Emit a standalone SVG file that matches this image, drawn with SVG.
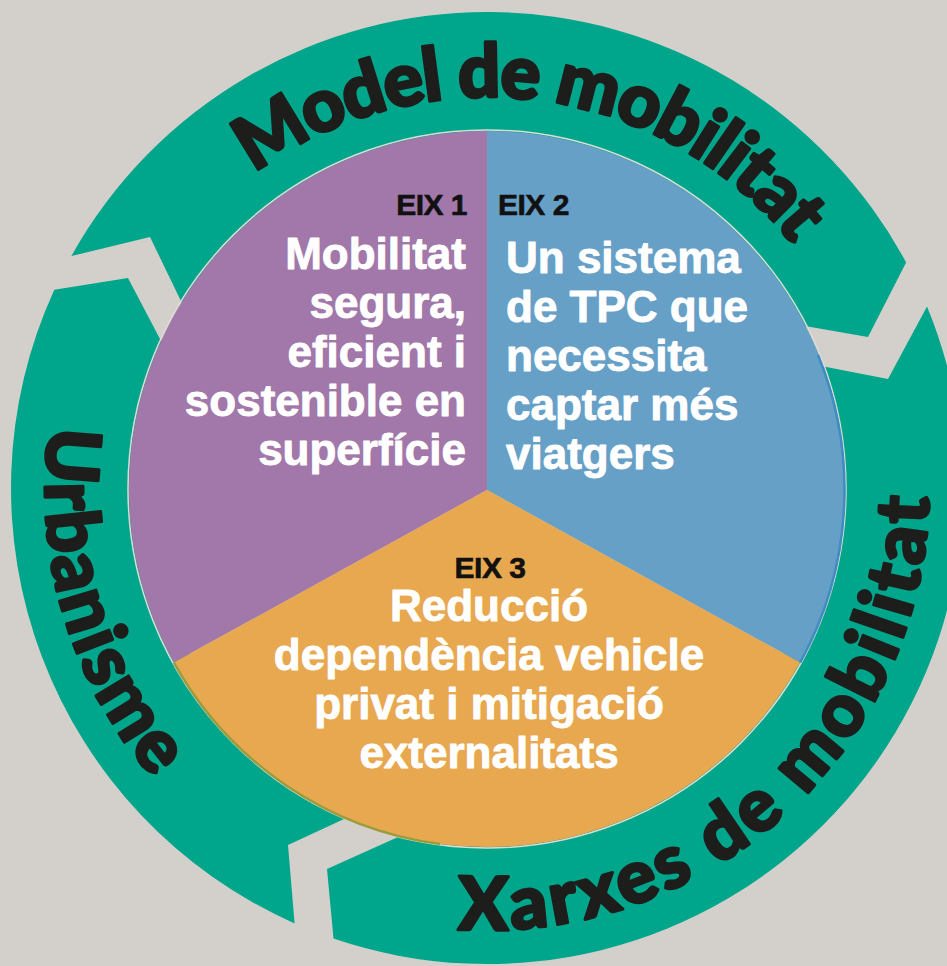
<svg xmlns="http://www.w3.org/2000/svg" width="947" height="966" viewBox="0 0 947 966">
  <defs>
    <style>
      .arrow { fill: #00a68b; }
      .ring { font-family: Lato, "Liberation Sans", sans-serif; font-weight: 900; font-size: 74px; fill: #1d1d1b; stroke: #1d1d1b; stroke-width: 3px; stroke-linejoin: round; }
      .eix { font-family: "Liberation Sans", Arial, sans-serif; font-weight: bold; font-size: 30px; fill: #111; stroke: #111; stroke-width: 0.6px; letter-spacing: -0.5px; }
      .body { font-family: "Liberation Sans", Arial, sans-serif; font-weight: bold; font-size: 44px; fill: #fff; stroke: #fff; stroke-width: 0.9px; stroke-linejoin: round; }
    </style>
    <path id="pModel" d="M 254.4 173.7 A 391 391 0 0 1 854.4 354.3"/>
    <path id="pUrb" d="M 49.3 426.5 A 442 442 0 0 0 233.5 850.1"/>
    <path id="pXar" d="M 458.1 929.1 A 442 442 0 0 0 922.3 411.3"/>
  </defs>
  <rect width="947" height="966" fill="#d3d0cb"/>

  <g id="connectors">
    <g id="arrow-model">
      <path class="arrow" d="M 71.3 256.1 A 476 476 0 0 1 906.1 262.4 L 868 337 L 806.4 326.3 L 790.3 334.5 A 340 340 0 0 0 196.7 311.0 L 181.3 301.7 L 150 237 Z"/>
      <text class="ring"><textPath href="#pModel" textLength="600" lengthAdjust="spacing">Model de mobilitat</textPath></text>
    </g>
    <g id="arrow-xarxes">
      <path class="arrow" d="M 927.0 306.4 A 476 476 0 0 1 333.5 938.6 L 327 869 L 401.4 835.6 L 405.7 818.1 A 340 340 0 0 0 806.8 372.5 L 823.7 366.4 L 888 379 Z"/>
      <text class="ring"><textPath href="#pXar" textLength="714" lengthAdjust="spacing">Xarxes de mobilitat</textPath></text>
    </g>
    <g id="arrow-urbanisme">
      <path class="arrow" d="M 294.6 923.4 A 476 476 0 0 1 54.3 289.7 L 128 278 L 160.8 340.4 L 177.2 347.8 A 340 340 0 0 0 354.3 801.0 L 347.3 817.6 L 288 845 Z"/>
      <text class="ring"><textPath href="#pUrb" textLength="378" lengthAdjust="spacing">Urbanisme</textPath></text>
    </g>
  </g>

  <circle cx="487" cy="489" r="359" fill="none" stroke="#dcdcd3" stroke-width="1.5"/>

  <g id="eix1">
    <path d="M 487 490 L 487 131 A 358 358 0 0 0 173.9 662.6 Z" fill="#a178a9"/>
    <text class="eix" x="467" y="215" text-anchor="end">EIX 1</text>
    <g class="body" text-anchor="end">
      <text x="466" y="269">Mobilitat</text>
      <text x="466" y="318">segura,</text>
      <text x="466" y="367">eficient i</text>
      <text x="466" y="416">sostenible en</text>
      <text x="466" y="465">superfície</text>
    </g>
  </g>

  <g id="eix2">
    <path d="M 487 490 L 487 131 A 358 358 0 0 1 800.1 662.6 Z" fill="#67a0c7"/>
    <path d="M 818 355 A 358 358 0 0 1 800.1 662.6" fill="none" stroke="#3f8cc3" stroke-width="2.5"/>
    <text class="eix" x="498" y="215">EIX 2</text>
    <g class="body">
      <text x="506" y="273">Un sistema</text>
      <text x="506" y="322">de TPC que</text>
      <text x="506" y="371">necessita</text>
      <text x="506" y="420">captar més</text>
      <text x="506" y="469">viatgers</text>
    </g>
  </g>

  <g id="eix3">
    <path d="M 487 490 L 800.1 662.6 A 358 358 0 0 1 173.9 662.6 Z" fill="#e7a850"/>
    <path d="M 173.9 662.6 A 358 358 0 0 0 440 844" fill="none" stroke="#9a9c3c" stroke-width="2.5"/>
    <text class="eix" x="490" y="578" text-anchor="middle">EIX 3</text>
    <g class="body" text-anchor="middle">
      <text x="489" y="621">Reducció</text>
      <text x="489" y="670">dependència vehicle</text>
      <text x="489" y="719">privat i mitigació</text>
      <text x="489" y="768">externalitats</text>
    </g>
  </g>
</svg>
